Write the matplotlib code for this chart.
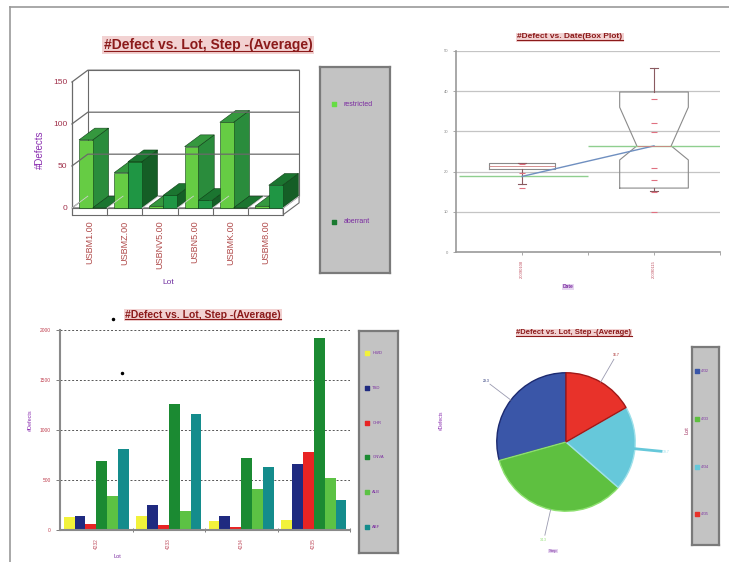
import matplotlib
matplotlib.use("Agg")
import matplotlib.pyplot as plt
from matplotlib.lines import Line2D
import numpy as np

plt.rcParams['font.family'] = ['Liberation Sans', 'DejaVu Sans']

# ---- data ----
# top-left: 3D clustered bars
lots1 = ["USBM1.00", "USBMZ.00", "USBNV5.00", "USBN5.00", "USBMK.00", "USBM8.00"]
series1_names = ["restricted", "aberrant"]
series1_a = [81, 42, 2, 73, 102, 2]
series1_b = [0, 55, 15, 9, 0, 27]
yticks1 = [0, 50, 100, 150]

# top-right: box plot by date
dates = ["20090108", "20090115"]
box_q1 = [20.6, 15.9]
box_q3 = [22.1, 39.8]
box_med = [21.3, 26.4]
box_lo = [16.9, 15.2]
box_hi = [22.1, 45.8]
box_cilo = [20.6, 22.9]
box_cihi = [22.1, 36.0]
center_line = [18.9, 26.4]
box_mean = [18.8, 26.4]
points_d1 = [21.9, 19.7, 15.9]
points_d2 = [38.1, 32.1, 29.9, 20.9, 17.9, 14.9, 10.0]
yticks2 = [0, 10, 20, 30, 40, 50]

# bottom-left: grouped bars
lots3 = ["4232", "4233", "4234", "4235"]
steps3 = ["HWD", "TSD", "CHR", "GNVA", "ALB", "ABF"]
values3 = {
    "HWD": [127, 137, 84, 100],
    "TSD": [134, 244, 137, 655],
    "CHR": [60, 50, 27, 776],
    "GNVA": [689, 1254, 712, 1923],
    "ALB": [334, 187, 405, 512],
    "ABF": [806, 1157, 622, 294],
}
colors3 = ["#f2f23a", "#1f2a80", "#e82424", "#1b8a32", "#5cc244", "#148c8c"]

# bottom-right: pie
pie_lots = ["4232", "4233", "4234", "4235"]
pie_values = [29.3, 34.3, 19.7, 16.7]
pie_colors = ["#3a56a8", "#5ec040", "#66c8da", "#e8322a"]
pie_edges = ["#1c2a70", "#8ee070", "#9ee0ea", "#a01818"]

W, H = 729, 562
fig = plt.figure(figsize=(W / 100, H / 100), dpi=100)


def rect(x0, y0, x1, y1):
    return [x0 / W, 1 - y1 / H, (x1 - x0) / W, (y1 - y0) / H]


def fx(x):
    return x / W


def fy(y):
    return 1 - y / H


TITLE_RED = "#8b1a1a"
PURPLE = "#8a2eb0"
titles = []


def boxed_title(x, y, s, size):
    t = fig.text(fx(x), fy(y), s, ha="center", va="center", fontsize=size,
                 fontweight="bold", color=TITLE_RED,
                 bbox=dict(boxstyle="square,pad=0.12", fc="#f2d2d2", ec="none"))
    titles.append(t)


def legend_box(r, names, cols, ys, size, marker="s"):
    lg = fig.add_axes(r)
    lg.set_facecolor("#c3c3c3")
    lg.set_xticks([])
    lg.set_yticks([])
    for sp in lg.spines.values():
        sp.set_color("#7a7a7a")
        sp.set_linewidth(1.6)
    lg.set_xlim(0, 1)
    lg.set_ylim(0, 1)
    for name, c, yy in zip(names, cols, ys):
        lg.scatter([0.2], [yy], s=10, marker=marker, color=c)
        lg.text(0.34, yy, name, fontsize=size, color="#7a2aa0", va="center")
    return lg


# outer frame
fig.add_artist(Line2D([fx(10), 1], [fy(7), fy(7)], color="#9a9a9a", lw=1.2))
fig.add_artist(Line2D([fx(10), fx(10)], [fy(7), 0], color="#9a9a9a", lw=1.2))

# ================= panel 1: 3D bars =================
ax1 = fig.add_axes(rect(70.2, 63.5, 302.6, 218))
ax1.set_xlim(-0.05, 6.55)
ax1.set_ylim(-12, 172)
DX, DY, T = 0.45, 14, 8
n1 = len(lots1)
gl = "#6a6a6a"
# back wall
ax1.fill([DX, n1 + DX, n1 + DX, DX], [DY, DY, 150 + DY, 150 + DY], color="white", ec=gl, lw=0.8)
for v in yticks1[1:]:
    ax1.plot([0, DX, n1 + DX], [v, v + DY, v + DY], color=gl, lw=0.9)
ax1.plot([0, 0], [0, 150], color=gl, lw=0.9)
# floor slab
ax1.fill([0, DX, n1 + DX, n1], [0, DY, DY, 0], color="white", ec=gl, lw=0.8)
ax1.fill([0, n1, n1, 0], [-T, -T, 0, 0], color="white", ec=gl, lw=0.8)
ax1.fill([n1, n1 + DX, n1 + DX, n1], [0, DY, DY - T, -T], color="white", ec=gl, lw=0.8)
for i in range(n1 + 1):
    ax1.plot([i, i], [-T, 0], color=gl, lw=0.8)
    ax1.plot([i, i + DX], [0, DY], color="#cfcfcf", lw=0.6)

BW = 0.39
offs = [0.2, 0.59]
styles = [("#66cc44", "#2a8c3c", "#35983e"), ("#1f9644", "#155e26", "#1b7530")]
ec = "#0e3d15"
for i in range(n1):
    for k, vals in enumerate([series1_a, series1_b]):
        x0 = i + offs[k]
        h = vals[i]
        front, side, top = styles[k]
        ax1.fill([x0 + BW, x0 + BW + DX, x0 + BW + DX, x0 + BW], [0, DY, h + DY, h],
                 color=side, ec=ec, lw=0.4)
        ax1.fill([x0, x0 + DX, x0 + BW + DX, x0 + BW], [h, h + DY, h + DY, h],
                 color=top, ec=ec, lw=0.4)
        ax1.bar(x0, h, width=BW, align="edge", color=front, edgecolor=ec, lw=0.4)
for sp in ax1.spines.values():
    sp.set_visible(False)
ax1.set_yticks(yticks1)
ax1.set_yticklabels([str(v) for v in yticks1], fontsize=6, color="#a0304a")
ax1.set_xticks(np.arange(n1) + 0.5)
ax1.set_xticklabels(lots1, rotation=90, fontsize=6.5, color="#b04a4a")
ax1.tick_params(length=0, pad=2)
ax1.set_facecolor("none")
fig.text(fx(40), fy(150), "#Defects", rotation=90, ha="center", va="center", fontsize=7, color=PURPLE)
fig.text(fx(168), fy(282), "Lot", ha="center", va="center", fontsize=6, color="#7030a0")
boxed_title(208, 45, "#Defect vs. Lot, Step -(Average)", 10)
legend_box(rect(320, 67, 390, 273), series1_names, ["#66dd44", "#1a7a30"], [0.82, 0.25], 5)

# ================= panel 2: box plot =================
ax2 = fig.add_axes(rect(456, 51, 720, 252))
ax2.set_xlim(0.5, 2.5)
ax2.set_ylim(0, 50)
for v in yticks2[1:]:
    ax2.axhline(v, color="#c4c4c4", lw=0.9, zorder=0)
stats = []
for j in range(2):
    stats.append(dict(med=box_med[j], q1=box_q1[j], q3=box_q3[j], whislo=box_lo[j],
                      whishi=box_hi[j], cilo=box_cilo[j], cihi=box_cihi[j], fliers=[]))
bstyle = dict(boxprops=dict(color="#8a8a8a", lw=0.8), whiskerprops=dict(color="#8a5a60", lw=0.8),
              capprops=dict(color="#8a5a60", lw=0.8), medianprops=dict(color="#d08080", lw=0.6))
ax2.bxp([stats[0]], positions=[1], widths=0.5, shownotches=False, capwidths=0.06, **bstyle)
ax2.bxp([stats[1]], positions=[2], widths=0.52, shownotches=True, capwidths=0.06, **bstyle)
ax2.hlines(center_line, [0.52, 1.5], [1.5, 2.5], color="#8fcf8f", lw=1.0)
ax2.plot([1, 2], box_mean, color="#6f8fc0", lw=1.0)
ax2.plot([1] * len(points_d1), points_d1, ls="none", marker="_", ms=5, color="#e07080", mew=0.8)
ax2.plot([2] * len(points_d2), points_d2, ls="none", marker="_", ms=5, color="#e07080", mew=0.8)
for s in ["top", "right"]:
    ax2.spines[s].set_visible(False)
for s in ["left", "bottom"]:
    ax2.spines[s].set_color("#9a9a9a")
    ax2.spines[s].set_linewidth(1.2)
ax2.set_yticks(yticks2)
ax2.set_yticklabels([str(v) for v in yticks2], fontsize=3, color="#888888")
ax2.set_xticks([1, 2])
ax2.set_xticklabels(dates, rotation=90, fontsize=3, color="#c05060")
ax2.set_xticks([1.5, 2.5], minor=True)
ax2.tick_params(length=2, color="#9a9a9a", width=0.6)
ax2.tick_params(which="minor", length=2, color="#9a9a9a")
fig.text(fx(568), fy(287), "Date", ha="center", va="center", fontsize=3.5, fontweight="bold",
         color="#7a2aa0", bbox=dict(boxstyle="square,pad=0.1", fc="#e6d6f0", ec="none"))
boxed_title(570, 37, "#Defect vs. Date(Box Plot)", 6)

# ================= panel 3: grouped bars =================
ax3 = fig.add_axes(rect(60, 330, 350, 529.5))
ax3.set_xlim(0, 4)
ax3.set_ylim(0, 2000)
for v in [500, 1000, 1500, 2000]:
    ax3.axhline(v, color="#555555", lw=0.7, ls=(0, (2, 2)), zorder=0)
bw3 = 0.15
x3 = np.arange(len(lots3))
for k, name in enumerate(steps3):
    ax3.bar(x3 + 0.05 + k * bw3, values3[name], width=bw3, align="edge", color=colors3[k], zorder=2)
for s in ["top", "right"]:
    ax3.spines[s].set_visible(False)
for s in ["left", "bottom"]:
    ax3.spines[s].set_color("#8a8a8a")
    ax3.spines[s].set_linewidth(1.5)
ax3.set_yticks([0, 500, 1000, 1500, 2000])
ax3.set_yticklabels(["0", "500", "1000", "1500", "2000"], fontsize=3.5, color="#c04050")
ax3.set_xticks(x3 + 0.5)
ax3.set_xticklabels(lots3, rotation=90, fontsize=3.5, color="#c05060")
ax3.set_xticks([1, 2, 3, 4], minor=True)
ax3.tick_params(axis="x", length=0, pad=6)
ax3.tick_params(axis="y", length=3, color="#666666", width=0.6)
ax3.tick_params(which="minor", length=3, direction="inout", color="#666666")
fig.text(fx(30), fy(420), "#Defects", rotation=90, ha="center", va="center", fontsize=4, color=PURPLE)
fig.text(fx(117), fy(557), "Lot", ha="center", va="center", fontsize=4, color="#7a2aa0")
boxed_title(203, 315, "#Defect vs. Lot, Step -(Average)", 7.5)
legend_box(rect(359, 331, 398, 553), steps3, colors3, np.linspace(0.9, 0.117, 6), 3)
fig.add_artist(Line2D([fx(113)], [fy(319)], marker="o", ms=1.5, color="black"))
fig.add_artist(Line2D([fx(122)], [fy(373)], marker="o", ms=1.5, color="black"))

# ================= panel 4: pie =================
ax4 = fig.add_axes(rect(476, 352, 656, 532))
wedges, _ = ax4.pie(pie_values, colors=pie_colors, startangle=90, counterclock=True,
                    wedgeprops=dict(lw=1.0))
for w, e in zip(wedges, pie_edges):
    w.set_edgecolor(e)
for w, v, c, e in zip(wedges, pie_values, pie_colors, pie_edges):
    ang = np.deg2rad((w.theta1 + w.theta2) / 2)
    lw = 2.0 if c == "#66c8da" else 0.6
    ax4.plot([np.cos(ang), 1.38 * np.cos(ang)], [np.sin(ang), 1.38 * np.sin(ang)],
             color=c if lw > 1 else "#9a9ab0", lw=lw, clip_on=False)
    ax4.text(1.45 * np.cos(ang), 1.45 * np.sin(ang), f"{v:.1f}", fontsize=2.5, color=e,
             ha="center", va="center")
ax4.set_xlim(-1.3, 1.3)
ax4.set_ylim(-1.3, 1.3)
ax4.set_aspect("equal")
fig.text(fx(441), fy(420), "#Defects", rotation=90, ha="center", va="center", fontsize=3.5, color=PURPLE)
fig.text(fx(687), fy(430), "Lot", rotation=90, ha="center", va="center", fontsize=4, color="#a03060")
fig.text(fx(553), fy(551), "Step", ha="center", va="center", fontsize=3, color="#7a2aa0",
         bbox=dict(boxstyle="square,pad=0.1", fc="#e6d6f0", ec="none"))
boxed_title(574, 333, "#Defect vs. Lot, Step -(Average)", 5.5)
legend_box(rect(692, 347, 719, 545), pie_lots, pie_colors, [0.88, 0.636, 0.394, 0.157], 2.5)

# underline the titles
fig.canvas.draw()
for t in titles:
    bb = t.get_window_extent()
    y = (bb.y0 + 1.0) / fig.bbox.height
    fig.add_artist(Line2D([bb.x0 / fig.bbox.width, bb.x1 / fig.bbox.width], [y, y],
                          color=TITLE_RED, lw=0.8, zorder=10))

fig.savefig("out.png", dpi=100)
